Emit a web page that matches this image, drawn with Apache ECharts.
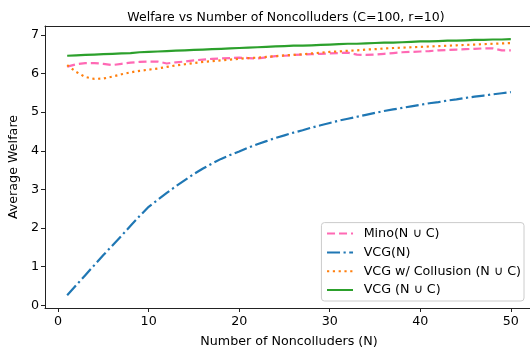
<!DOCTYPE html>
<html>
<head>
<meta charset="utf-8">
<script src="https://cdn.jsdelivr.net/npm/echarts@6/dist/echarts.min.js"></script>
<style>
  html, body { margin: 0; padding: 0; background: #fff; }
  #chart { width: 530px; height: 353px; }
</style>
</head>
<body>
<div id="chart"></div>
<script>
// number of noncolluders on the x axis
const nValues = [1, 2, 3, 4, 5, 6, 7, 8, 9, 10, 11, 12, 13, 14, 15, 16, 17, 18, 19, 20,
  21, 22, 23, 24, 25, 26, 27, 28, 29, 30, 31, 32, 33, 34, 35, 36, 37, 38, 39, 40,
  41, 42, 43, 44, 45, 46, 47, 48, 49, 50]

// Mino(N ∪ C)
const minoWelfare = [6.18, 6.24, 6.27, 6.27, 6.25, 6.22, 6.25, 6.28, 6.30, 6.31,
  6.31, 6.26, 6.29, 6.31, 6.34, 6.36, 6.38, 6.39, 6.40, 6.41,
  6.40, 6.39, 6.42, 6.45, 6.46, 6.48, 6.49, 6.50, 6.51, 6.52,
  6.53, 6.54, 6.49, 6.48, 6.49, 6.51, 6.53, 6.55, 6.56, 6.57,
  6.58, 6.60, 6.61, 6.62, 6.63, 6.64, 6.65, 6.65, 6.60, 6.60]

// VCG(N)
const vcgWelfare = [0.26, 0.52, 0.78, 1.04, 1.30, 1.55, 1.80, 2.06, 2.31, 2.55,
  2.73, 2.91, 3.08, 3.24, 3.40, 3.54, 3.67, 3.79, 3.89, 3.98,
  4.08, 4.17, 4.25, 4.33, 4.40, 4.47, 4.53, 4.60, 4.66, 4.72,
  4.78, 4.83, 4.88, 4.93, 4.98, 5.03, 5.07, 5.11, 5.15, 5.19,
  5.23, 5.26, 5.30, 5.33, 5.37, 5.40, 5.43, 5.46, 5.49, 5.52]

// VCG w/ Collusion (N ∪ C)
const collusionWelfare = [6.22, 6.04, 5.91, 5.86, 5.87, 5.92, 5.98, 6.03, 6.07, 6.10,
  6.13, 6.17, 6.21, 6.24, 6.27, 6.30, 6.32, 6.34, 6.36, 6.38,
  6.40, 6.41, 6.43, 6.45, 6.47, 6.48, 6.50, 6.52, 6.54, 6.56,
  6.57, 6.59, 6.60, 6.62, 6.63, 6.65, 6.66, 6.67, 6.68, 6.69,
  6.70, 6.71, 6.72, 6.73, 6.74, 6.75, 6.76, 6.77, 6.78, 6.79]

// VCG (N ∪ C)
const vcgAllWelfare = [6.46, 6.47, 6.48, 6.49, 6.50, 6.51, 6.52, 6.53, 6.55, 6.56,
  6.57, 6.58, 6.59, 6.60, 6.61, 6.62, 6.63, 6.64, 6.65, 6.66,
  6.67, 6.68, 6.69, 6.70, 6.71, 6.72, 6.72, 6.73, 6.74, 6.75,
  6.76, 6.77, 6.77, 6.78, 6.79, 6.80, 6.80, 6.81, 6.82, 6.83,
  6.83, 6.84, 6.85, 6.85, 6.86, 6.87, 6.87, 6.88, 6.88, 6.89]

const xTicks = [0, 10, 20, 30, 40, 50]
const yTicks = [0, 1, 2, 3, 4, 5, 6, 7]

const font = 'DejaVu Sans'
const pair = (arr) => nValues.map((n, i) => [n, arr[i]])

const lineSeries = (name, arr, color, type) => ({
  name: name,
  type: 'line',
  data: pair(arr),
  showSymbol: false,
  symbol: 'none',
  lineStyle: { color: color, width: 2.2, type: type, cap: 'butt' },
  itemStyle: { color: color },
  animation: false
})

const chart = echarts.init(document.getElementById('chart'))
chart.setOption({
  backgroundColor: '#fff',
  title: {
    text: 'Welfare vs Number of Noncolluders (C=100, r=10)',
    left: 281,
    top: 6,
    textAlign: 'center',
    textStyle: { fontFamily: font, fontSize: 12.5, fontWeight: 'normal', color: '#000' }
  },
  grid: {
    left: 45, right: -3, top: 26, bottom: 45,
    outerBoundsMode: 'none'
  },
  legend: {
    orient: 'vertical',
    right: 6, bottom: 52,
    itemWidth: 26, itemHeight: 13, itemGap: 5.8,
    padding: [4.5, 3, 4.5, 4.6],
    itemStyle: { opacity: 0 },
    backgroundColor: 'rgba(255,255,255,0.8)',
    borderColor: '#ccc', borderWidth: 1, borderRadius: 3,
    textStyle: { fontFamily: font, fontSize: 12.7, color: '#000', padding: [0, 0, 0, 5.6] },
    data: ['Mino(N ∪ C)', 'VCG(N)', 'VCG w/ Collusion (N ∪ C)', 'VCG (N ∪ C)']
  },
  xAxis: [{
    type: 'value',
    min: -1.45, max: 52.45,
    name: 'Number of Noncolluders (N)',
    nameLocation: 'middle', nameGap: 27,
    nameTextStyle: { fontFamily: font, fontSize: 12.7, color: '#000' },
    axisLine: { show: true, onZero: false, lineStyle: { color: '#222' } },
    axisTick: { show: true, length: 4, customValues: xTicks, lineStyle: { color: '#222' } },
    axisLabel: { customValues: xTicks, margin: 7, fontFamily: font, fontSize: 12.7, color: '#000' },
    splitLine: { show: false }
  }, {
    // top spine only
    type: 'value',
    position: 'top',
    min: -1.45, max: 52.45,
    axisLine: { show: true, onZero: false, lineStyle: { color: '#222' } },
    axisTick: { show: false },
    axisLabel: { show: false },
    splitLine: { show: false }
  }],
  yAxis: {
    type: 'value',
    min: -0.07, max: 7.23,
    name: 'Average Welfare',
    nameLocation: 'middle', nameGap: 23,
    nameTextStyle: { fontFamily: font, fontSize: 12.7, color: '#000' },
    axisLine: { show: true, onZero: false, lineStyle: { color: '#222' } },
    axisTick: { show: true, length: 4, customValues: yTicks, lineStyle: { color: '#222' } },
    axisLabel: { customValues: yTicks, margin: 6, fontFamily: font, fontSize: 12.7, color: '#000' },
    splitLine: { show: false }
  },
  series: [
    lineSeries('Mino(N ∪ C)', minoWelfare, '#ff69b4', [8, 4]),
    lineSeries('VCG(N)', vcgWelfare, '#1f77b4', [13, 3.5, 2.2, 3.5]),
    lineSeries('VCG w/ Collusion (N ∪ C)', collusionWelfare, '#ff7f0e', [2.2, 3.6]),
    lineSeries('VCG (N ∪ C)', vcgAllWelfare, '#2ca02c', 'solid')
  ]
})
</script>
</body>
</html>
